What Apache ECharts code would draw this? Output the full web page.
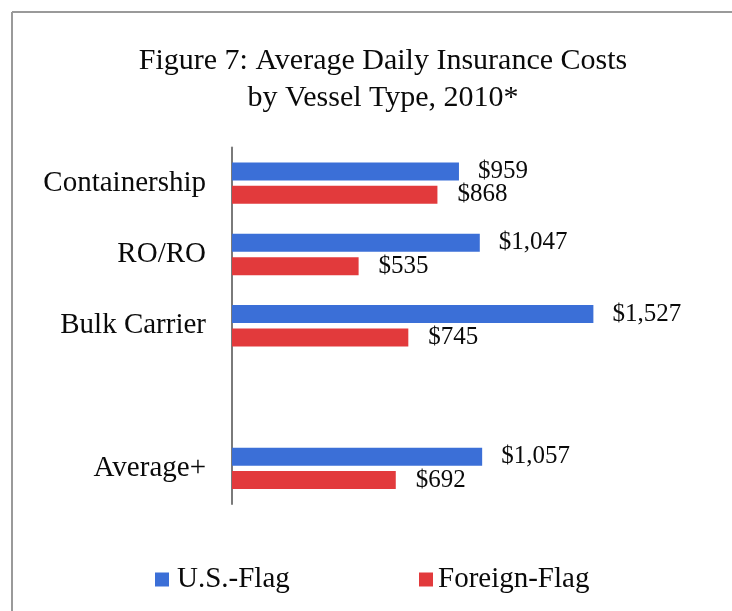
<!DOCTYPE html>
<html>
<head>
<meta charset="utf-8">
<script src="https://cdn.jsdelivr.net/npm/echarts@6/dist/echarts.min.js"></script>
<style>
html,body{margin:0;padding:0;background:#fff;}
#chart{width:732px;height:611px;}
</style>
</head>
<body>
<div id="chart"></div>
<script>
const categories = ['Containership', 'RO/RO', 'Bulk Carrier', '', 'Average+'];
const usFlag = [959, 1047, 1527, null, 1057];
const foreignFlag = [868, 535, 745, null, 692];
const seriesNames = ['U.S.-Flag', 'Foreign-Flag'];
const titleText = 'Figure 7: Average Daily Insurance Costs\nby Vessel Type, 2010*';

const FONT = '"Liberation Serif", "Times New Roman", serif';
const chart = echarts.init(document.getElementById('chart'), null, {renderer: 'canvas'});

function fmt(v) {
  return '$' + Number(v).toLocaleString('en-US');
}

const option = {
  backgroundColor: '#ffffff',
  animation: false,
  title: {
    text: titleText,
    left: 378,
    textAlign: 'center',
    top: 38,
    textStyle: {fontFamily: FONT, fontSize: 30, fontWeight: 'normal', color: '#0a0a0a', lineHeight: 37}
  },
  legend: [
    {
      data: [seriesNames[0]], left: 155, top: 565, padding: 0, itemWidth: 14, itemHeight: 14,
      icon: 'rect', itemGap: 4,
      textStyle: {fontFamily: FONT, fontSize: 29, color: '#0a0a0a', padding: [0, 0, 0, 3]}
    },
    {
      data: [seriesNames[1]], left: 419, top: 565, padding: 0, itemWidth: 14, itemHeight: 14,
      icon: 'rect', itemGap: 4,
      textStyle: {fontFamily: FONT, fontSize: 29, color: '#0a0a0a', padding: [0, 0, 0, 0]}
    }
  ],
  grid: {left: 232, right: 74, top: 147.5, bottom: 107, containLabel: false},
  xAxis: {
    type: 'value', min: 0, max: 1800, show: false
  },
  yAxis: {
    type: 'category',
    data: categories,
    inverse: true,
    axisLine: {show: true, lineStyle: {color: '#7a7a7a', width: 2}},
    axisTick: {show: false},
    axisLabel: {fontFamily: FONT, fontSize: 29, color: '#0a0a0a', margin: 26}
  },
  series: [
    {
      name: seriesNames[0], type: 'bar', data: usFlag, barWidth: 18, barGap: '30%',
      itemStyle: {color: '#3b6fd7'},
      label: {show: true, position: 'right', distance: 19, formatter: p => fmt(p.value),
        fontFamily: FONT, fontSize: 25, color: '#0a0a0a'}
    },
    {
      name: seriesNames[1], type: 'bar', data: foreignFlag, barWidth: 18, barGap: '30%',
      itemStyle: {color: '#e23a3c'},
      label: {show: true, position: 'right', distance: 20, formatter: p => fmt(p.value),
        fontFamily: FONT, fontSize: 25, color: '#0a0a0a'}
    }
  ],
  graphic: [
    {type: 'line', shape: {x1: 12, y1: 12, x2: 732, y2: 12}, style: {stroke: '#9a9a9a', lineWidth: 2}},
    {type: 'line', shape: {x1: 12, y1: 12, x2: 12, y2: 611}, style: {stroke: '#9a9a9a', lineWidth: 2}}
  ]
};
chart.setOption(option);
</script>
</body>
</html>
